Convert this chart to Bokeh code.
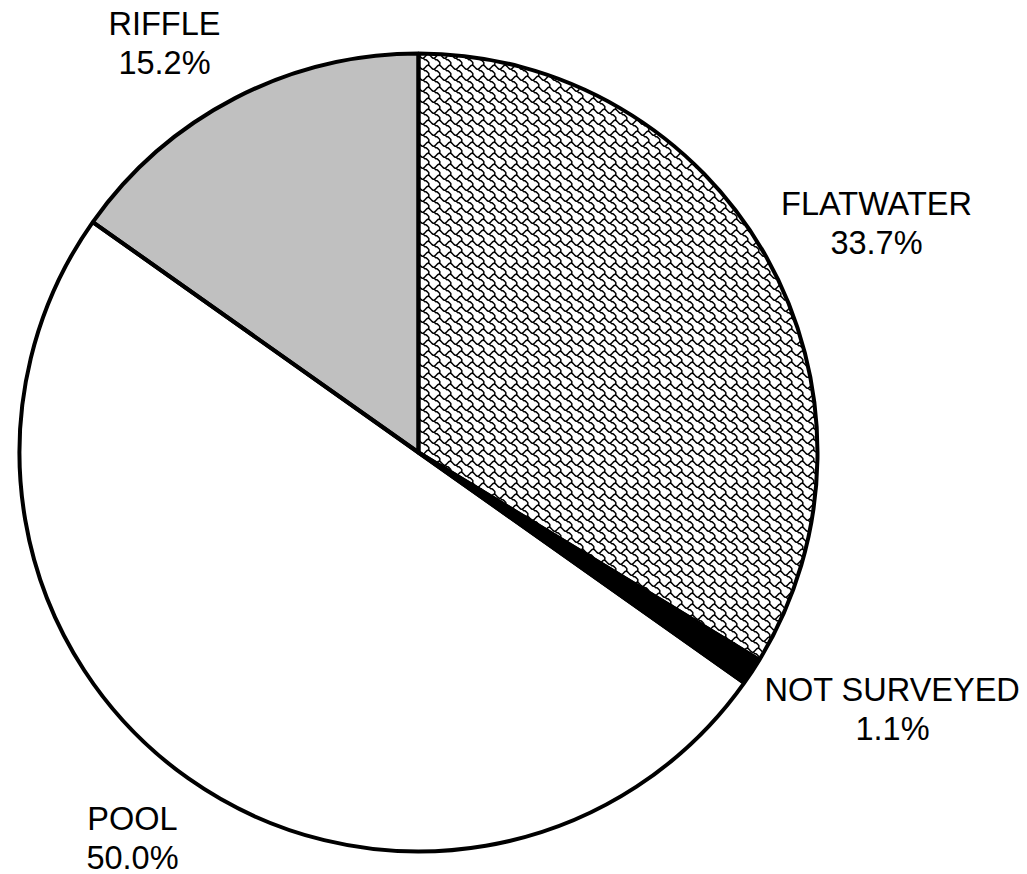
import numpy as np
from bokeh.plotting import figure
from bokeh.models import Range1d, ColumnDataSource
from bokeh.core.properties import value
from bokeh.embed import file_html
from bokeh.resources import INLINE

# Habitat composition (percent of surveyed length), clockwise from 12 o'clock
categories = ["FLATWATER", "NOT SURVEYED", "POOL", "RIFFLE"]
percents = [33.7, 1.1, 50.0, 15.2]
fills = ["white", "black", "white", "#c0c0c0"]

# Label anchors (pixel x, baseline of first line in pixel y)
label_x = [876, 892, 132, 164]
label_y = [213, 699, 828, 33]
LINE_GAP = 39
BASELINE_FIX = 10

W, H = 1027, 874
CX, CY, R = 418, 452, 399

p = figure(width=W, height=H, output_backend="svg", toolbar_location=None,
           x_range=Range1d(0, W), y_range=Range1d(0, H), min_border=0)
p.axis.visible = False
p.grid.visible = False
p.outline_line_color = None
p.background_fill_color = "white"

frac = np.array(percents) / 100.0
cum = np.concatenate([[0.0], np.cumsum(frac)])
start = 90 - cum[1:] * 360
end = 90 - cum[:-1] * 360
src = ColumnDataSource(dict(start=start, end=end, fill=fills))

# slice fills
p.wedge(x=CX, y=H - CY, radius=R, start_angle="start", end_angle="end",
        start_angle_units="deg", end_angle_units="deg", direction="anticlock",
        fill_color="fill", line_color=None, source=src)

# shingle texture (8x8 bitmap motif) laid over the flatwater slice
motif = [
    [(0, 1), (1, 2), (2, 3), (3, 3), (4, 2), (5, 1), (6, 0), (7, 0), (8, 1)],
    [(3, 3), (4, 4), (5, 4), (6, 5), (7, 6), (7, 7), (7, 8)],
]
scale = 11 / 8
tile_pts = []
for poly in motif:
    pts = np.array(poly, dtype=float) + 0.5
    seg = []
    for a, b in zip(pts[:-1], pts[1:]):
        n = max(2, int(np.ceil(np.hypot(*(b - a)) * scale)) + 1)
        t = np.linspace(0, 1, n)[:-1]
        seg.append(a + (b - a) * t[:, None])
    seg.append(pts[-1:])
    seg = np.vstack(seg) * scale
    tile_pts.append(np.vstack([seg, [[np.nan, np.nan]]]))
tile_pts = np.vstack(tile_pts)

period = 8 * scale
ox = np.arange(CX - period, CX + R + period, period)
oy = np.arange(CY - R - period, CY + R + period, period)
gx, gy = np.meshgrid(ox, oy)
tx = (gx.ravel()[:, None] + tile_pts[None, :, 0]).ravel()
ty = (gy.ravel()[:, None] + tile_pts[None, :, 1]).ravel()
dx = tx - CX
dy = CY - ty
ang = np.degrees(np.arctan2(dy, dx))
inside = (np.hypot(dx, dy) < R - 1) & (ang > start[0]) & (ang < end[0])
tx = np.where(inside, tx, np.nan)
ty = np.where(inside, H - ty, np.nan)
p.line(x=tx, y=ty, line_color="black", line_width=1.5)

# slice outlines
p.wedge(x=CX, y=H - CY, radius=R, start_angle="start", end_angle="end",
        start_angle_units="deg", end_angle_units="deg", direction="anticlock",
        fill_color=None, line_color="black", line_width=4, source=src)

names_src = ColumnDataSource(dict(
    x=label_x, y=[H - v + BASELINE_FIX for v in label_y], t=categories))
pct_src = ColumnDataSource(dict(
    x=label_x, y=[H - v - LINE_GAP + BASELINE_FIX for v in label_y],
    t=[f"{v:.1f}%" for v in percents]))
for s in (names_src, pct_src):
    p.text(x="x", y="y", text="t", source=s, text_align="center",
           text_baseline="alphabetic", text_font=value("Liberation Sans"),
           text_font_size="32.5px", text_color="black")

open("out.html", "w").write(file_html(p, INLINE))
